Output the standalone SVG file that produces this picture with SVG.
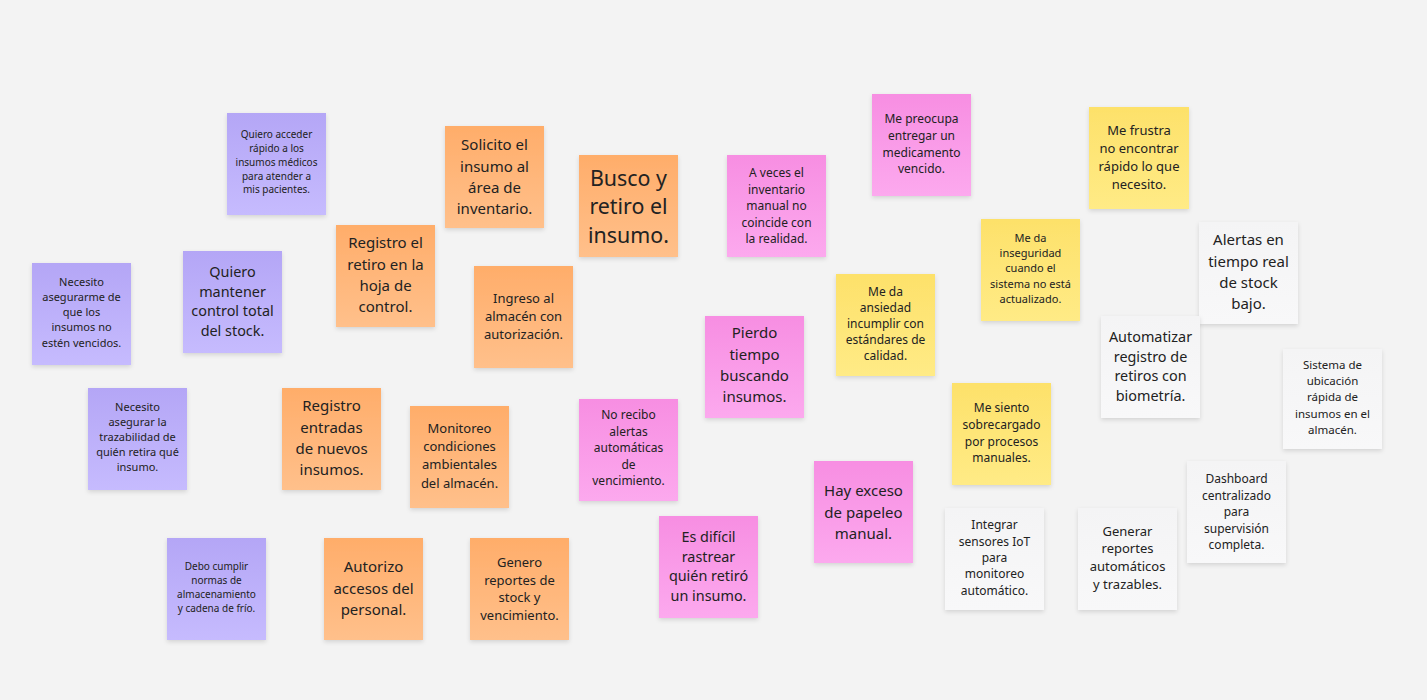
<svg xmlns="http://www.w3.org/2000/svg" width="1427" height="700" viewBox="0 0 1427 700">
<defs>
<linearGradient id="gPu" x1="0" y1="0" x2="0" y2="1"><stop offset="0" stop-color="#b4a6f6"/><stop offset="1" stop-color="#c6bbfe"/></linearGradient>
<linearGradient id="gOr" x1="0" y1="0" x2="0" y2="1"><stop offset="0" stop-color="#ffad6a"/><stop offset="1" stop-color="#ffc08b"/></linearGradient>
<linearGradient id="gPk" x1="0" y1="0" x2="0" y2="1"><stop offset="0" stop-color="#f78ee2"/><stop offset="1" stop-color="#fca9ee"/></linearGradient>
<linearGradient id="gYe" x1="0" y1="0" x2="0" y2="1"><stop offset="0" stop-color="#fde16a"/><stop offset="1" stop-color="#ffeb86"/></linearGradient>
<linearGradient id="gWh" x1="0" y1="0" x2="0" y2="1"><stop offset="0" stop-color="#f4f4f5"/><stop offset="1" stop-color="#f8f8f9"/></linearGradient>
<filter id="sh" x="-10%" y="-10%" width="130%" height="130%"><feDropShadow dx="0" dy="2" stdDeviation="2" flood-color="#000" flood-opacity="0.13"/></filter>
</defs>
<style>
.n{filter:url(#sh)}
.pu{fill:url(#gPu)}
.or{fill:url(#gOr)}
.pk{fill:url(#gPk)}
.ye{fill:url(#gYe)}
.wh{fill:url(#gWh)}
text{font-family:"Noto Sans","Open Sans","DejaVu Sans",sans-serif;fill:#222;text-anchor:middle}
.f10{font-size:10px}.f11{font-size:11px}.f115{font-size:11.5px}.f12{font-size:12px}.f13{font-size:13px}.f14{font-size:14.4px}.f15{font-size:15px}.f21{font-size:21.4px}
</style>
<rect width="1427" height="700" fill="#f3f3f3"/>

<g id="n1"><rect class="n pu" x="227" y="113" width="99" height="102"/><text class="f10"><tspan x="276.5" y="137.6">Quiero acceder</tspan><tspan x="276.5" y="151.6">rápido a los</tspan><tspan x="276.5" y="165.6">insumos médicos</tspan><tspan x="276.5" y="179.6">para atender a</tspan><tspan x="276.5" y="193">mis pacientes.</tspan></text></g>
<g id="n2"><rect class="n pu" x="32" y="263" width="99" height="102"/><text class="f11"><tspan x="81.5" y="286">Necesito</tspan><tspan x="81.5" y="301">asegurarme de</tspan><tspan x="81.5" y="316">que los</tspan><tspan x="81.5" y="331">insumos no</tspan><tspan x="81.5" y="347">estén vencidos.</tspan></text></g>
<g id="n3"><rect class="n pu" x="183" y="251" width="99" height="102"/><text class="f14"><tspan x="232.5" y="277">Quiero</tspan><tspan x="232.5" y="296.5">mantener</tspan><tspan x="232.5" y="316">control total</tspan><tspan x="232.5" y="336">del stock.</tspan></text></g>
<g id="n4"><rect class="n pu" x="88" y="388" width="99" height="102"/><text class="f11"><tspan x="137.5" y="411">Necesito</tspan><tspan x="137.5" y="426">asegurar la</tspan><tspan x="137.5" y="441">trazabilidad de</tspan><tspan x="137.5" y="456">quién retira qué</tspan><tspan x="137.5" y="471">insumo.</tspan></text></g>
<g id="n5"><rect class="n pu" x="167" y="538" width="99" height="102"/><text class="f10"><tspan x="216.5" y="569.6">Debo cumplir</tspan><tspan x="216.5" y="583.6">normas de</tspan><tspan x="216.5" y="597.6">almacenamiento</tspan><tspan x="216.5" y="611.6">y cadena de frío.</tspan></text></g>

<g id="n6"><rect class="n or" x="336" y="225" width="99" height="102"/><text class="f15"><tspan x="385.5" y="248.4">Registro el</tspan><tspan x="385.5" y="269.7">retiro en la</tspan><tspan x="385.5" y="291">hoja de</tspan><tspan x="385.5" y="312.3">control.</tspan></text></g>
<g id="n7"><rect class="n or" x="445" y="126" width="99" height="102"/><text class="f15"><tspan x="494.5" y="150.4">Solicito el</tspan><tspan x="494.5" y="171.7">insumo al</tspan><tspan x="494.5" y="193">área de</tspan><tspan x="494.5" y="214.3">inventario.</tspan></text></g>
<g id="n8"><rect class="n or" x="579" y="155" width="99" height="102"/><text class="f21"><tspan x="628.5" y="185.6">Busco y</tspan><tspan x="628.5" y="214">retiro el</tspan><tspan x="628.5" y="242.6">insumo.</tspan></text></g>
<g id="n9"><rect class="n or" x="474" y="266" width="99" height="102"/><text class="f13"><tspan x="523.5" y="302.7">Ingreso al</tspan><tspan x="523.5" y="320.7">almacén con</tspan><tspan x="523.5" y="338.7">autorización.</tspan></text></g>
<g id="n10"><rect class="n or" x="282" y="388" width="99" height="102"/><text class="f15"><tspan x="331.5" y="411.4">Registro</tspan><tspan x="331.5" y="432.7">entradas</tspan><tspan x="331.5" y="454">de nuevos</tspan><tspan x="331.5" y="475.3">insumos.</tspan></text></g>
<g id="n11"><rect class="n or" x="410" y="406" width="99" height="102"/><text class="f13"><tspan x="459.5" y="432.7">Monitoreo</tspan><tspan x="459.5" y="451">condiciones</tspan><tspan x="459.5" y="469.3">ambientales</tspan><tspan x="459.5" y="487.6">del almacén.</tspan></text></g>
<g id="n12"><rect class="n or" x="324" y="538" width="99" height="102"/><text class="f15"><tspan x="373.5" y="572.4">Autorizo</tspan><tspan x="373.5" y="593.7">accesos del</tspan><tspan x="373.5" y="615">personal.</tspan></text></g>
<g id="n13"><rect class="n or" x="470" y="538" width="99" height="102"/><text class="f13"><tspan x="519.5" y="566.7">Genero</tspan><tspan x="519.5" y="584.5">reportes de</tspan><tspan x="519.5" y="602.3">stock y</tspan><tspan x="519.5" y="620">vencimiento.</tspan></text></g>

<g id="n14"><rect class="n pk" x="727" y="155" width="99" height="102"/><text class="f12"><tspan x="776.5" y="177.3">A veces el</tspan><tspan x="776.5" y="193.8">inventario</tspan><tspan x="776.5" y="210.3">manual no</tspan><tspan x="776.5" y="226.8">coincide con</tspan><tspan x="776.5" y="243.3">la realidad.</tspan></text></g>
<g id="n15"><rect class="n pk" x="872" y="94" width="99" height="102"/><text class="f12"><tspan x="921.5" y="123.3">Me preocupa</tspan><tspan x="921.5" y="140">entregar un</tspan><tspan x="921.5" y="156.7">medicamento</tspan><tspan x="921.5" y="173.4">vencido.</tspan></text></g>
<g id="n16"><rect class="n pk" x="705" y="316" width="99" height="102"/><text class="f15"><tspan x="754.5" y="338.4">Pierdo</tspan><tspan x="754.5" y="359.7">tiempo</tspan><tspan x="754.5" y="381">buscando</tspan><tspan x="754.5" y="402.3">insumos.</tspan></text></g>
<g id="n17"><rect class="n pk" x="579" y="399" width="99" height="102"/><text class="f12"><tspan x="628.5" y="419.3">No recibo</tspan><tspan x="628.5" y="435.8">alertas</tspan><tspan x="628.5" y="452.3">automáticas</tspan><tspan x="628.5" y="468.8">de</tspan><tspan x="628.5" y="485.3">vencimiento.</tspan></text></g>
<g id="n18"><rect class="n pk" x="659" y="516" width="99" height="102"/><text class="f14"><tspan x="708.5" y="542">Es difícil</tspan><tspan x="708.5" y="561.6">rastrear</tspan><tspan x="708.5" y="581.2">quién retiró</tspan><tspan x="708.5" y="600.8">un insumo.</tspan></text></g>
<g id="n19"><rect class="n pk" x="814" y="461" width="99" height="102"/><text class="f15"><tspan x="863.5" y="496.4">Hay exceso</tspan><tspan x="863.5" y="517.7">de papeleo</tspan><tspan x="863.5" y="539">manual.</tspan></text></g>

<g id="n20"><rect class="n ye" x="1089" y="107" width="100" height="102"/><text class="f13"><tspan x="1139" y="134.7">Me frustra</tspan><tspan x="1139" y="152.7">no encontrar</tspan><tspan x="1139" y="170.7">rápido lo que</tspan><tspan x="1139" y="188.7">necesito.</tspan></text></g>
<g id="n21"><rect class="n ye" x="981" y="219" width="99" height="102"/><text class="f11"><tspan x="1030.5" y="242">Me da</tspan><tspan x="1030.5" y="257.2">inseguridad</tspan><tspan x="1030.5" y="272.4">cuando el</tspan><tspan x="1030.5" y="287.6">sistema no está</tspan><tspan x="1030.5" y="302.8">actualizado.</tspan></text></g>
<g id="n22"><rect class="n ye" x="836" y="274" width="99" height="102"/><text class="f12"><tspan x="885.5" y="296.3">Me da</tspan><tspan x="885.5" y="312.3">ansiedad</tspan><tspan x="885.5" y="328.3">incumplir con</tspan><tspan x="885.5" y="344.3">estándares de</tspan><tspan x="885.5" y="360.3">calidad.</tspan></text></g>
<g id="n23"><rect class="n ye" x="952" y="383" width="99" height="102"/><text class="f12"><tspan x="1001.5" y="412.3">Me siento</tspan><tspan x="1001.5" y="429">sobrecargado</tspan><tspan x="1001.5" y="445.7">por procesos</tspan><tspan x="1001.5" y="462.4">manuales.</tspan></text></g>

<g id="n24"><rect class="n wh" x="1199" y="222" width="99" height="102"/><text class="f15"><tspan x="1248.5" y="245.4">Alertas en</tspan><tspan x="1248.5" y="266.7">tiempo real</tspan><tspan x="1248.5" y="288">de stock</tspan><tspan x="1248.5" y="309.3">bajo.</tspan></text></g>
<g id="n25"><rect class="n wh" x="1101" y="316" width="99" height="102"/><text class="f14"><tspan x="1150.5" y="342">Automatizar</tspan><tspan x="1150.5" y="361.5">registro de</tspan><tspan x="1150.5" y="381">retiros con</tspan><tspan x="1150.5" y="400.5">biometría.</tspan></text></g>
<g id="n26"><rect class="n wh" x="1283" y="349" width="99" height="100"/><text class="f115"><tspan x="1332.5" y="369">Sistema de</tspan><tspan x="1332.5" y="385.2">ubicación</tspan><tspan x="1332.5" y="401.4">rápida de</tspan><tspan x="1332.5" y="417.6">insumos en el</tspan><tspan x="1332.5" y="433.8">almacén.</tspan></text></g>
<g id="n27"><rect class="n wh" x="1187" y="461" width="99" height="102"/><text class="f12"><tspan x="1236.5" y="483.3">Dashboard</tspan><tspan x="1236.5" y="499.8">centralizado</tspan><tspan x="1236.5" y="516.3">para</tspan><tspan x="1236.5" y="532.8">supervisión</tspan><tspan x="1236.5" y="549.3">completa.</tspan></text></g>
<g id="n28"><rect class="n wh" x="945" y="508" width="99" height="102"/><text class="f12"><tspan x="994.5" y="529.3">Integrar</tspan><tspan x="994.5" y="545.6">sensores IoT</tspan><tspan x="994.5" y="561.9">para</tspan><tspan x="994.5" y="578.2">monitoreo</tspan><tspan x="994.5" y="594.5">automático.</tspan></text></g>
<g id="n29"><rect class="n wh" x="1078" y="508" width="99" height="102"/><text class="f13"><tspan x="1127.5" y="535.7">Generar</tspan><tspan x="1127.5" y="553.4">reportes</tspan><tspan x="1127.5" y="571.1">automáticos</tspan><tspan x="1127.5" y="588.8">y trazables.</tspan></text></g>
</svg>
